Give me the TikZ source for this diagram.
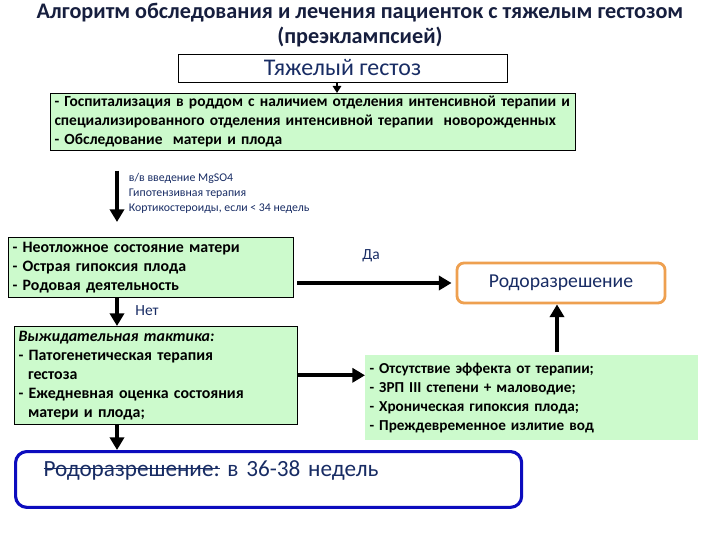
\documentclass[tikz,border=0pt]{standalone}
\usepackage{fontspec}
\setmainfont{Carlito}
\usetikzlibrary{arrows.meta}
\definecolor{boxgreen}{RGB}{204,250,204}
\definecolor{navy}{RGB}{24,44,100}
\definecolor{titlenavy}{RGB}{22,30,62}
\definecolor{rodorange}{RGB}{238,160,80}
\definecolor{planblue}{RGB}{12,12,190}
\newsavebox{\strikebox}
\newcommand{\crossout}[1]{\sbox{\strikebox}{#1}\rlap{\raisebox{0.3em}{\rule{\wd\strikebox}{0.9pt}}}\usebox{\strikebox}}

\begin{document}
\begin{tikzpicture}[x=0.025cm, y=-0.025cm,
  greenbox/.style={draw=black, fill=boxgreen, anchor=north west, align=left,
    inner xsep=3pt, inner ysep=1pt, font=\fontsize{11.3}{13.5}\selectfont\bfseries},
  arr/.style={line width=2.8pt, -{Triangle[length=9pt,width=10pt]}},
  lbl/.style={text=navy}]
  \useasboundingbox (0,0) rectangle (720,540);
  % title
  \node[font=\fontsize{15.8}{17.7}\selectfont\bfseries, text=titlenavy, align=center] (title) at (360,25)
    {Алгоритм обследования и лечения пациенток с тяжелым гестозом\\(преэклампсией)};
  \node[draw=black, fill=white, minimum width=8.225cm, minimum height=0.7cm, inner sep=0pt,
    font=\fontsize{17}{19}\selectfont, text=navy] (gest) at (342.5,68) {Тяжелый гестоз};
  % boxes
  \node[greenbox, text width=12.9cm, minimum height=1.425cm, font=\fontsize{11}{13.5}\selectfont\bfseries] (hosp) at (50,93)
    {- Госпитализация в роддом с наличием отделения интенсивной терапии и\\
     специализированного отделения интенсивной терапии\ \ новорожденных\\
     - Обследование\ \ матери и плода};
  \node[greenbox, text width=6.9cm, minimum height=1.5cm] (urgent) at (8,237)
    {- Неотложное состояние матери\\- Острая гипоксия плода\\- Родовая деятельность};
  \node[greenbox, text width=6.85cm, minimum height=2.45cm] (wait) at (14,326)
    {\textit{Выжидательная тактика:}\\- Патогенетическая терапия\\\hspace*{0.6em}гестоза\\
     - Ежедневная оценка состояния\\\hspace*{0.6em}матери и плода;};
  \node[greenbox, draw=none, text width=8.1cm, minimum height=2.125cm, font=\fontsize{10.8}{13.5}\selectfont\bfseries] (fail) at (365,355)
    {- Отсутствие эффекта от терапии;\\- ЗРП III степени + маловодие;\\
     - Хроническая гипоксия плода;\\- Преждевременное излитие вод};
  \node[draw=rodorange, line width=2pt, rounded corners=5pt, fill=white, minimum width=5.2cm,
    minimum height=1cm, font=\fontsize{14}{17}\selectfont, text=navy] (deliv) at (561,283) {Родоразрешение};
  \node[draw=planblue, line width=2.2pt, rounded corners=8pt, fill=white, anchor=north west,
    text width=11.25cm, align=left, inner xsep=0.7cm, inner ysep=0pt, text height=17.7pt, text depth=22pt,
    font=\fontsize{16.5}{19}\selectfont, text=navy] (plan) at (14,450)
    {\crossout{Родоразрешение:} в 36-38 недель};
  % arrows
  \coordinate (ax) at (117,0);
  \coordinate (ux) at (557,0);
  \draw[line width=1.2pt, -{Triangle[length=5pt,width=6pt]}] (gest.south -| 337,0) -- (hosp.north -| 337,0);
  \draw[arr, shorten <=0.5cm, shorten >=0.375cm] (hosp.south -| ax) -- (urgent.north -| ax);
  \node[lbl, anchor=west, align=left, font=\fontsize{8.4}{10.6}\selectfont] (drugs) at (124,193)
    {в/в введение MgSO4\\Гипотензивная терапия\\Кортикостероиды, если < 34 недель};
  \draw[arr, shorten <=0.1cm, shorten >=0.1cm] (deliv.west -| urgent.east) -- (deliv.west);
  \node[lbl, font=\fontsize{11}{13}\selectfont] (yes) at (371,256) {Да};
  \draw[arr] (urgent.south -| ax) -- (wait.north -| ax);
  \node[lbl, font=\fontsize{11}{13}\selectfont] (no) at (147,311) {Нет};
  \draw[arr] (wait.east) -- (wait.east -| fail.west);
  \draw[arr, shorten <=0.075cm] (fail.north -| ux) -- (deliv.south -| ux);
  \draw[arr] (wait.south -| ax) -- (plan.north -| ax);
\end{tikzpicture}
\end{document}
